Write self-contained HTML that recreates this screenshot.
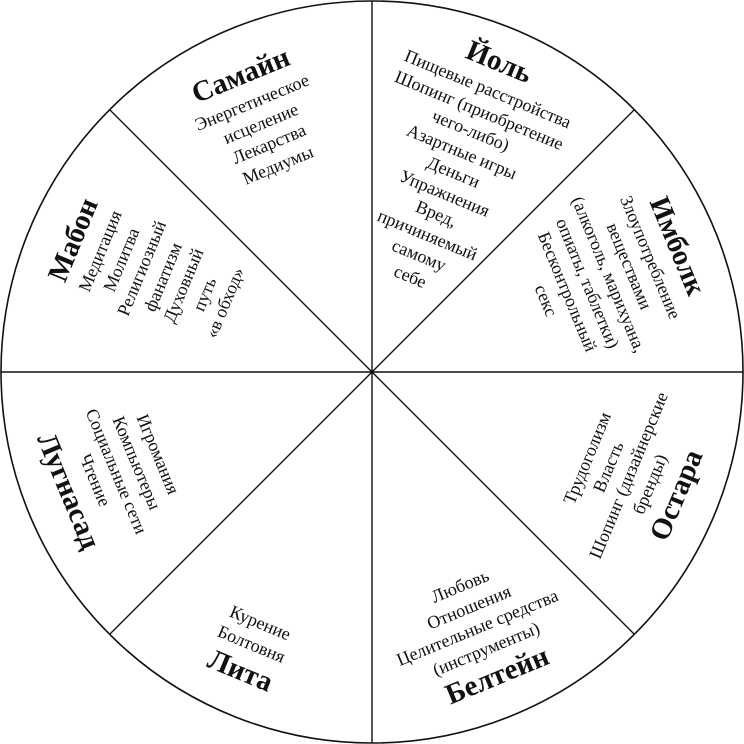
<!DOCTYPE html>
<html><head><meta charset="utf-8"><style>
html,body{margin:0;padding:0;background:#fff;}
body{width:744px;height:744px;position:relative;overflow:hidden;font-family:"Liberation Serif","Noto Serif CJK SC","DejaVu Serif",serif;color:#111;}
svg{position:absolute;left:0;top:0;}
.b{position:absolute;left:0;top:0;text-align:center;font-family:"Liberation Serif","Noto Serif CJK SC","DejaVu Serif",serif;font-size:18px;line-height:22.5px;white-space:nowrap;}
.t{font-size:29px;font-weight:bold;line-height:36px;}
</style></head><body>
<svg width="744" height="744" viewBox="0 0 744 744">
<circle cx="372" cy="372" r="371" fill="#fff" stroke="#111" stroke-width="1.6"/>
<line x1="372" y1="1" x2="372" y2="743" stroke="#111" stroke-width="1.4"/>
<line x1="1" y1="372" x2="743" y2="372" stroke="#111" stroke-width="1.4"/>
<line x1="109.7" y1="109.7" x2="634.3" y2="634.3" stroke="#111" stroke-width="1.4"/>
<line x1="634.3" y1="109.7" x2="109.7" y2="634.3" stroke="#111" stroke-width="1.4"/>
</svg>

<div class="b" style="transform:translate(258px,117px) translate(-50%,-50%) rotate(-22.5deg);">
<div class="t">Самайн</div>Энергетическое<br>исцеление<br>Лекарства<br>Медиумы</div>

<div class="b" style="transform:translate(456px,166px) translate(-50%,-50%) rotate(22.5deg);">
<div class="t">Йоль</div>Пищевые расстройства<br>Шопинг (приобретение<br>чего-либо)<br>Азартные игры<br>Деньги<br>Упражнения<br>Вред,<br>причиняемый<br>самому<br>себе</div>

<div class="b" style="transform:translate(615px,272px) translate(-50%,-50%) rotate(67.5deg);">
<div class="t">Имболк</div>Злоупотребление<br>веществами<br>(алкоголь, марихуана,<br>опиаты, таблетки)<br>Бесконтрольный<br>секс</div>

<div class="b" style="transform:translate(635px,478px) translate(-50%,-50%) rotate(-67.5deg);">
Трудоголизм<br>Власть<br>Шопинг (дизайнерские<br>бренды)<div class="t">Остара</div></div>

<div class="b" style="transform:translate(480px,634px) translate(-50%,-50%) rotate(-22.5deg);">
Любовь<br>Отношения<br>Целительные средства<br>(инструменты)<div class="t">Белтейн</div></div>

<div class="b" style="transform:translate(249px,650px) translate(-50%,-50%) rotate(22.5deg);">
Курение<br>Болтовня<div class="t">Лита</div></div>

<div class="b" style="transform:translate(110px,474px) translate(-50%,-50%) rotate(67.5deg);">
Игромания<br>Компьютеры<br>Социальные сети<br>Чтение<div class="t">Лугнасад</div></div>

<div class="b" style="transform:translate(146px,270px) translate(-50%,-50%) rotate(-67.5deg);">
<div class="t">Мабон</div>Медитация<br>Молитва<br>Религиозный<br>фанатизм<br>Духовный<br>путь<br>«в обход»</div>
</body></html>
